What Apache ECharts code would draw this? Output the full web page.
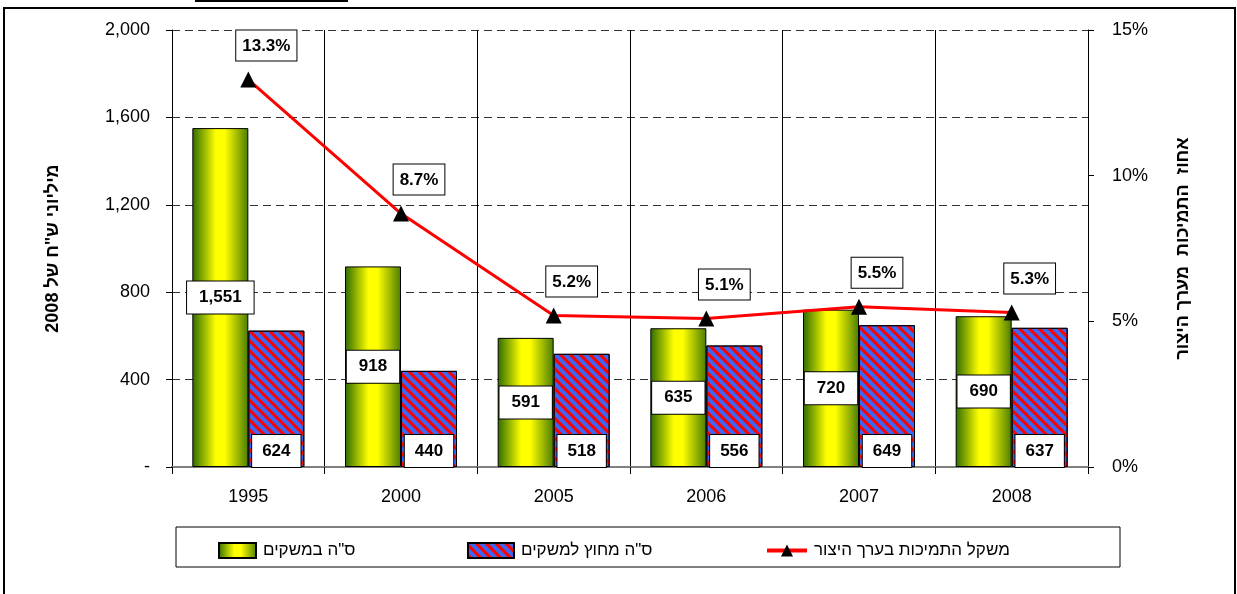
<!DOCTYPE html>
<html>
<head>
<meta charset="utf-8">
<script src="https://cdn.jsdelivr.net/npm/echarts@6/dist/echarts.min.js"></script>
<style>
  html, body { margin: 0; padding: 0; background: #fff; }
  #chart { width: 1237px; height: 594px; }
</style>
</head>
<body>
<div id="chart"></div>
<script>
// data
var years = ['1995', '2000', '2005', '2006', '2007', '2008'];
var inFarms = [1551, 918, 591, 635, 720, 690];
var outsideFarms = [624, 440, 518, 556, 649, 637];
var supportShare = [13.3, 8.7, 5.2, 5.1, 5.5, 5.3];

var seriesNames = ['ס"ה במשקים', 'ס"ה מחוץ למשקים', 'משקל התמיכות בערך היצור'];
var leftTitle = 'מיליוני ש"ח של 2008';
var rightTitle = 'אחוז  התמיכות  מערך היצור';

(function() {
  var font = 'Liberation Sans, Arial, sans-serif';
  var chart = echarts.init(document.getElementById('chart'), null, { renderer: 'canvas' });

  var boxLabel = {
    show: true,
    color: '#000',
    fontFamily: font,
    fontWeight: 'bold',
    fontSize: 17,
    backgroundColor: '#fff',
    borderColor: '#000',
    borderWidth: 1,
    padding: [8, 12, 7, 12]
  };

  function legendAt(left, name, w, icon) {
    return {
      left: left,
      top: 537,
      itemWidth: w,
      itemHeight: 15,
      itemGap: 0,
      icon: icon,
      data: [name],
      lineStyle: { width: 4 },
      textStyle: { color: '#000', fontFamily: font, fontSize: 17, padding: [0, 0, 0, 2] }
    };
  }

  chart.setOption({
    animation: false,
    grid: { left: 172, right: 149, top: 30, bottom: 127 },
    legend: [
      legendAt(213, seriesNames[0], 37, 'rect'),
      legendAt(462, seriesNames[1], 46, 'rect'),
      legendAt(760, seriesNames[2], 40)
    ],
    xAxis: [{
      type: 'category',
      data: years,
      axisLine: { lineStyle: { color: '#808080', width: 2 } },
      axisTick: { show: true, length: 7, lineStyle: { color: '#000' } },
      splitLine: { show: true, lineStyle: { color: '#000', width: 1 } },
      axisLabel: { color: '#000', fontFamily: font, fontSize: 18, margin: 21 }
    }, {
      type: 'category',
      data: years,
      position: 'top',
      axisLine: { show: true, lineStyle: { color: '#808080', width: 2 } },
      axisTick: { show: false },
      axisLabel: { show: false }
    }],
    yAxis: [{
      type: 'value',
      min: 0,
      max: 2000,
      interval: 400,
      name: leftTitle,
      nameLocation: 'middle',
      nameRotate: 90,
      nameGap: 110,
      nameTextStyle: { color: '#000', fontFamily: font, fontSize: 18, fontWeight: 'bold' },
      axisLine: { show: true, lineStyle: { color: '#000' } },
      axisTick: { show: true, length: 6, lineStyle: { color: '#000' } },
      splitLine: { show: true, lineStyle: { color: '#333', type: [8, 5] } },
      axisLabel: {
        color: '#000', fontFamily: font, fontSize: 18, margin: 22,
        formatter: function(v) { return v === 0 ? '-' : v.toLocaleString('en-US'); }
      }
    }, {
      type: 'value',
      min: 0,
      max: 15,
      interval: 5,
      position: 'right',
      name: rightTitle,
      nameLocation: 'middle',
      nameRotate: 90,
      nameGap: 86,
      nameTextStyle: { color: '#000', fontFamily: font, fontSize: 18, fontWeight: 'bold' },
      axisLine: { show: true, lineStyle: { color: '#000' } },
      axisTick: { show: true, length: 6, lineStyle: { color: '#000' } },
      splitLine: { show: false },
      axisLabel: {
        color: '#000', fontFamily: font, fontSize: 18, margin: 24,
        formatter: function(v) { return v + '%'; }
      }
    }],
    series: [{
      name: seriesNames[0],
      type: 'bar',
      data: inFarms,
      barWidth: 56,
      barGap: '0%',
      itemStyle: {
        borderColor: '#000',
        borderWidth: 1,
        color: new echarts.graphic.LinearGradient(0, 0, 1, 0, [
          { offset: 0, color: '#2E6B00' },
          { offset: 0.42, color: '#FFFF00' },
          { offset: 0.58, color: '#FFFF00' },
          { offset: 1, color: '#4A7C00' }
        ])
      },
      label: Object.assign({}, boxLabel, {
        position: 'inside',
        formatter: function(p) { return p.value.toLocaleString('en-US'); }
      })
    }, {
      name: seriesNames[1],
      type: 'bar',
      data: outsideFarms,
      barWidth: 56,
      barGap: '0%',
      itemStyle: {
        color: '#3D66F2',
        borderColor: '#000',
        borderWidth: 1,
        decal: {
          symbol: 'rect',
          symbolSize: 1,
          color: '#FF0000',
          dashArrayX: [1, 0],
          dashArrayY: [3, 4],
          rotation: Math.PI / 4
        }
      },
      label: Object.assign({}, boxLabel, {
        position: 'insideBottom',
        distance: 0,
        padding: [8, 10, 7, 10]
      })
    }, {
      name: seriesNames[2],
      type: 'line',
      yAxisIndex: 1,
      data: supportShare,
      symbol: 'triangle',
      symbolSize: 16,
      itemStyle: { color: '#000' },
      lineStyle: { color: '#FF0000', width: 3 },
      label: Object.assign({}, boxLabel, {
        position: 'top',
        distance: 11,
        offset: [18, 0],
        padding: [7, 6, 6, 6],
        formatter: function(p) { return p.value.toFixed(1) + '%'; }
      })
    }],
    graphic: [{
      type: 'rect',
      shape: { x: 4, y: 8, width: 1231, height: 620 },
      style: { fill: 'none', stroke: '#000', lineWidth: 2 },
      silent: true
    }, {
      type: 'line',
      shape: { x1: 195, y1: 1, x2: 348, y2: 1 },
      style: { stroke: '#000', lineWidth: 2 },
      silent: true
    }, {
      type: 'rect',
      shape: { x: 176, y: 527, width: 944, height: 40 },
      style: { fill: 'none', stroke: '#000', lineWidth: 1 },
      silent: true,
      z: -1
    }]
  });
})();
</script>
</body>
</html>
